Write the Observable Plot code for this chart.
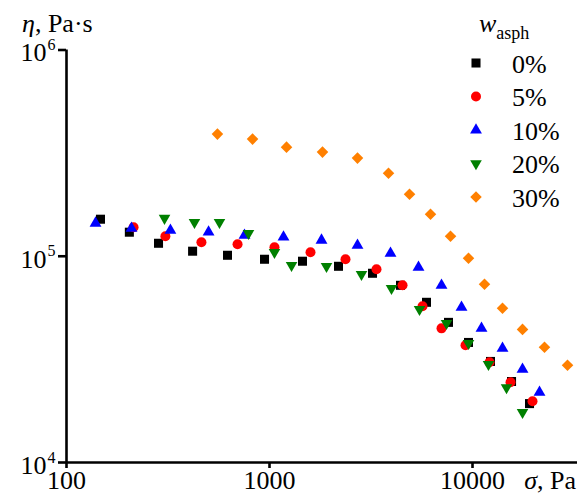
<!DOCTYPE html>
<html><head><meta charset="utf-8">
<script src="https://cdn.jsdelivr.net/npm/d3@7"></script>
<script src="https://cdn.jsdelivr.net/npm/@observablehq/plot@0.6"></script>
<style>
html,body{margin:0;padding:0;background:#fff;}
#chart svg{display:block;}
</style></head><body><div id="chart"></div>
<script>
// ---- data ----
const seriesNames = ["0%", "5%", "10%", "20%", "30%"];
const sigma0 = [147, 204, 284, 418, 621, 945, 1454, 2187, 3217, 4419, 5934, 7617, 9556, 12264, 15570, 19094];
const eta0   = [151200, 130800, 115600, 105800, 101100, 96700, 94600, 89400, 82700, 72300, 59800, 47800, 38200, 30900, 24700, 19300];
const sigma5 = [214, 307, 462, 696, 1058, 1592, 2368, 3366, 4522, 5672, 7036, 9238, 12125, 15392, 19753];
const eta5   = [138300, 125000, 116900, 114400, 110600, 104600, 96700, 86500, 72300, 57200, 44700, 37000, 30600, 24500, 19800];
const sigma10 = [139, 209, 325, 501, 753, 1172, 1804, 2713, 3945, 5420, 7036, 8828, 11075, 14054, 17635, 21380];
const eta10   = [144600, 136700, 133700, 130800, 126400, 123700, 119600, 113100, 103400, 88400, 72300, 56600, 44700, 35800, 28300, 21900];
const sigma20 = [304, 427, 567, 788, 1058, 1284, 1909, 2839, 3990, 5482, 7446, 9556, 11988, 14709, 17635];
const eta20   = [152900, 146200, 146200, 129300, 104600, 90400, 89400, 81800, 69900, 55300, 47300, 37800, 29900, 23100, 17500];
const sigma30 = [554, 825, 1213, 1824, 2713, 3857, 4895, 6210, 7793, 9556, 11457, 14054, 17635, 22625, 29380];
const eta30   = [391000, 369800, 338100, 319800, 299100, 252800, 200000, 159900, 125000, 97800, 73100, 55900, 44200, 36200, 29600];
const xTicks = [100, 1000, 10000];
const yTicks = [1e4, 1e5, 1e6];
const xDomain = [100, 32900];
const yDomain = [1e4, 1e6];

// ---- styles ----
const colors = ["#000000", "#ff0000", "#0000ff", "#008000", "#ff8000"];
const triangleDown = {
  draw(context, size) {
    const y = Math.sqrt(size / (3 * Math.sqrt(3)));
    context.moveTo(0, 2 * y);
    context.lineTo(-Math.sqrt(3) * y, -y);
    context.lineTo(Math.sqrt(3) * y, -y);
    context.closePath();
  }
};
const plotSymbols = ["square", "circle", "triangle", triangleDown, "diamond2"];
const d3Symbols = [d3.symbolSquare, d3.symbolCircle, d3.symbolTriangle, triangleDown, d3.symbolDiamond2];
const radii = [5.1, 5.0, 4.4, 4.3, 5.2];
const FONT = "Liberation Serif";

const xs = [sigma0, sigma5, sigma10, sigma20, sigma30];
const ys = [eta0, eta5, eta10, eta20, eta30];
const tables = xs.map((sx, i) => sx.map((v, j) => ({sigma: v, eta: ys[i][j]})));

const W = 577, H = 497;
const plot = Plot.plot({
  width: W, height: H,
  marginLeft: 66, marginRight: 0, marginTop: 49.5, marginBottom: 35,
  style: {fontFamily: FONT, fontSize: "26px", background: "white", color: "black", overflow: "visible"},
  x: {type: "log", domain: xDomain, label: null},
  y: {type: "log", domain: yDomain, label: null},
  marks: [
    Plot.ruleX([xDomain[0]], {stroke: "black", strokeWidth: 2.6}),
    Plot.ruleY([yDomain[0]], {stroke: "black", strokeWidth: 2.6}),
    Plot.axisX({ticks: xTicks, tickSize: 6, tickPadding: 2, tickFormat: d => String(d), strokeWidth: 2.6, label: null}),
    Plot.axisY({ticks: yTicks, tickSize: 8, tickFormat: () => "", strokeWidth: 2.6, label: null}),
    Plot.text(yTicks, {y: d => d, frameAnchor: "left", text: () => "10", textAnchor: "end", dx: -20, dy: 3, fontSize: 26}),
    Plot.text(yTicks, {y: d => d, frameAnchor: "left", text: d => String(Math.round(Math.log10(d))), textAnchor: "start", dx: -19, dy: -5, fontSize: 16}),
    ...tables.map((t, i) => Plot.dot(t, {x: "sigma", y: "eta", fill: colors[i], stroke: "none", symbol: plotSymbols[i], r: radii[i]}))
  ]
});
document.getElementById("chart").appendChild(plot);

// ---- axis titles and legend (mixed italic / subscript text) ----
const svg = d3.select(plot);
const yl = svg.append("text").attr("x", 22).attr("y", 32).attr("text-anchor", "start")
  .style("font-family", FONT).attr("font-size", 26).attr("fill", "black");
yl.append("tspan").attr("font-style", "italic").text("η");
yl.append("tspan").text(", Pa·s");
const xl = svg.append("text").attr("x", 576).attr("y", 489).attr("text-anchor", "end")
  .style("font-family", FONT).attr("font-size", 26).attr("fill", "black");
xl.append("tspan").attr("font-style", "italic").text("σ");
xl.append("tspan").text(", Pa");

const lg = svg.append("g").style("font-family", FONT).attr("fill", "black").attr("text-anchor", "start");
const lt = lg.append("text").attr("x", 479).attr("y", 32).attr("font-size", 26);
lt.append("tspan").attr("font-style", "italic").text("w");
lt.append("tspan").attr("font-size", 18).attr("dy", 7).text("asph");
seriesNames.forEach((name, i) => {
  const cy = 63 + i * 33.5;
  lg.append("path")
    .attr("transform", `translate(476,${cy})`)
    .attr("d", d3.symbol(d3Symbols[i], Math.PI * radii[i] * radii[i])())
    .attr("fill", colors[i]);
  lg.append("text").attr("x", 512).attr("y", cy + 1).attr("dy", "0.34em").attr("font-size", 26).text(name);
});
</script></body></html>
